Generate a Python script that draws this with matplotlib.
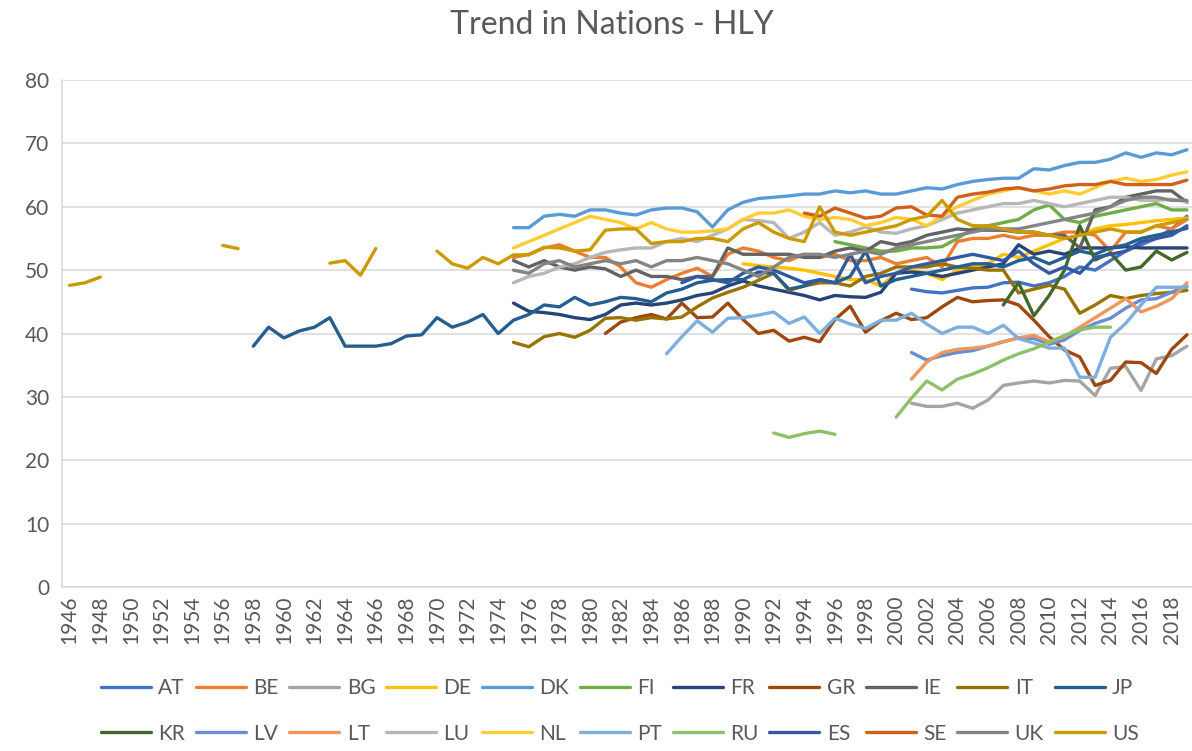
import numpy as np
import matplotlib
matplotlib.use("Agg")
import matplotlib.pyplot as plt

nan = np.nan

# 数据：每个国家 = (起始年份, 数值列表)
AT_start, AT = 2001, [47.0, 46.6, 46.4, 46.8, 47.2, 47.3, 48.0, 48.1, 47.5, 48.0, 49.0, 50.5, 50.0, 51.5, 53.0, 54.0, 55.0, 56.5, 58.5]
BE_start, BE = 1975, [52.0, 52.5, 53.5, 54.0, 53.0, 52.0, 52.0, 50.5, 48.0, 47.3,
                      48.5, 49.5, 50.3, 49.0, 52.5, 53.5, 53.0, 52.0, 51.5, 52.5,
                      52.0, 52.5, 51.5, 51.5, 52.0, 51.0, 51.5, 52.0, 50.5, 54.5,
                      55.0, 55.0, 55.5, 55.0, 55.5, 55.5, 56.0, 56.0, 55.5, 53.0,
                      56.0, 56.0, 57.0, 56.5, 58.0]
BG_start, BG = 2001, [29.0, 28.5, 28.5, 29.0, 28.2, 29.5, 31.8, 32.2, 32.5, 32.2, 32.6, 32.5, 30.2, 34.5, 34.8, 31.0, 36.0, 36.5, 38.0]
DE_start, DE = 1990, [51.0, 50.7, 50.5, 50.3, 50.0, 49.5, 49.0, 48.5, 48.5, 47.5,
                      49.5, 50.0, 49.5, 48.5, 50.0, 50.5, 51.0, 52.5, 52.0, 53.0,
                      54.0, 55.0, 55.5, 56.5, 57.0, 57.2, 57.5, 57.8, 58.0, 58.2]
DK_start, DK = 1975, [56.7, 56.7, 58.5, 58.8, 58.5, 59.5, 59.5, 59.0, 58.7, 59.5,
                      59.8, 59.8, 59.2, 56.8, 59.5, 60.7, 61.3, 61.5, 61.7, 62.0,
                      62.0, 62.5, 62.2, 62.5, 62.0, 62.0, 62.5, 63.0, 62.8, 63.5,
                      64.0, 64.3, 64.5, 64.5, 66.0, 65.8, 66.5, 67.0, 67.0, 67.5,
                      68.5, 67.8, 68.5, 68.2, 69.0]
FI_start, FI = 1996, [54.5, 54.0, 53.5, 53.0, 53.0, 53.5, 53.5, 53.7, 55.0, 56.5,
                      57.0, 57.5, 58.0, 59.5, 60.3, 58.0, 57.5, 58.5, 59.0, 59.5,
                      60.0, 60.5, 59.5, 59.5]
FR_start, FR = 1975, [44.8, 43.5, 43.3, 43.0, 42.5, 42.2, 43.0, 44.5, 44.8, 44.5,
                      44.8, 45.3, 46.0, 46.4, 47.5, 48.3, 47.5, 47.0, 46.5, 46.0,
                      45.3, 46.0, 45.8, 45.7, 46.5, 49.5, 49.7, 49.5, 49.0, 49.5,
                      50.0, 50.5, 51.0, 54.0, 52.5, 53.0, 52.5, 53.5, 53.5, 53.5,
                      53.7, 53.5, 53.5, 53.5, 53.5]
GR_start, GR = 1981, [40.0, 41.8, 42.5, 43.0, 42.3, 44.8, 42.5, 42.6, 44.8, 42.2,
                      40.0, 40.5, 38.8, 39.4, 38.7, 42.2, 44.3, 40.2, 42.0, 43.2,
                      42.2, 42.5, 44.2, 45.7, 45.0, 45.2, 45.3, 44.5, 42.1, 39.5,
                      37.4, 36.3, 31.8, 32.6, 35.5, 35.4, 33.7, 37.5, 39.8]
IE_start, IE = 1975, [51.5, 50.5, 51.5, 50.5, 50.0, 50.5, 50.2, 49.0, 50.0, 49.0,
                      49.0, 48.5, 49.0, 49.0, 53.5, 52.5, 52.5, 52.5, 52.5, 52.0,
                      52.0, 53.0, 53.5, 53.0, 54.5, 54.0, 54.5, 55.5, 56.0, 56.5,
                      56.3, 56.3, 56.3, 56.0, 56.0, 55.5, 55.5, 53.5, 59.5, 60.0,
                      61.5, 62.0, 62.5, 62.5, 60.7]
IT_start, IT = 1975, [38.6, 37.9, 39.5, 40.0, 39.4, 40.5, 42.4, 42.5, 42.1, 42.5,
                      42.3, 42.6, 44.2, 45.6, 46.5, 47.3, 48.4, 49.5, 46.8, 47.5,
                      48.0, 48.0, 47.5, 49.0, 49.5, 50.5, 50.5, 50.5, 51.0, 50.5,
                      50.3, 50.0, 50.0, 46.4, 47.0, 47.6, 47.0, 43.2, 44.5, 46.0,
                      45.5, 46.0, 46.3, 46.5, 46.8]
JP_start, JP = 1958, [38.0, 41.0, 39.3, 40.4, 41.0, 42.5, 38.0, 38.0, 38.0, 38.4,
                      39.6, 39.8, 42.5, 41.0, 41.8, 43.0, 40.0, 42.1, 43.0, 44.5,
                      44.2, 45.7, 44.5, 45.0, 45.7, 45.5, 45.0, 46.4, 47.0, 48.0,
                      48.4, 48.5, 48.5, 49.7, 49.5, 47.0, 47.5, 48.5, 48.0, 49.0,
                      53.0, 47.5, 48.5, 49.0, 49.5, 50.0, 50.5, 51.0, 51.0, 50.5,
                      51.5, 52.0, 51.0, 52.0, 53.0, 52.5, 53.5, 54.0, 55.0, 55.5,
                      56.0, 56.6]
KR_start, KR = 2007, [44.5, 48.0, 42.8, 46.0, 50.0, 57.0, 51.6, 52.7, 50.0, 50.5, 53.0, 51.6, 52.8]
LV_start, LV = 2001, [37.0, 35.8, 36.5, 37.0, 37.3, 38.0, 38.7, 39.3, 39.2, 38.3, 39.0, 40.5, 41.6, 42.4, 44.0, 45.3, 45.5, 46.5, 47.5]
LT_start, LT = 2001, [32.8, 35.5, 37.0, 37.5, 37.7, 38.0, 38.7, 39.3, 39.7, 38.7, 39.5, 41.0, 42.5, 44.0, 45.5, 43.4, 44.3, 45.5, 48.0]
LU_start, LU = 1975, [48.0, 49.0, 49.5, 50.5, 51.0, 52.0, 52.8, 53.2, 53.5, 53.5,
                      54.5, 55.0, 54.5, 55.5, 56.5, 58.0, 57.8, 57.5, 55.0, 56.0,
                      57.5, 55.5, 56.0, 56.8, 56.0, 55.8, 56.5, 57.0, 58.0, 59.0,
                      59.5, 60.0, 60.5, 60.5, 61.0, 60.5, 60.0, 60.5, 61.0, 61.5,
                      61.5, 61.0, 61.0, 61.2, 60.8]
NL_start, NL = 1975, [53.5, 54.5, 55.5, 56.5, 57.5, 58.5, 58.0, 57.5, 56.5, 57.5,
                      56.5, 56.0, 56.0, 56.2, 56.5, 58.0, 59.0, 59.0, 59.5, 58.5,
                      58.0, 58.3, 58.0, 57.0, 57.5, 58.3, 58.0, 57.0, 58.5, 60.0,
                      61.0, 62.0, 62.5, 63.0, 62.5, 62.0, 62.5, 62.0, 63.0, 64.0,
                      64.5, 64.0, 64.3, 65.0, 65.5]
PT_start, PT = 1985, [36.8, 39.5, 42.0, 40.2, 42.4, 42.5, 42.9, 43.4, 41.6, 42.6,
                      40.0, 42.4, 41.5, 40.8, 42.1, 42.1, 43.2, 41.5, 40.0, 41.0,
                      41.0, 40.0, 41.3, 39.2, 38.5, 37.7, 37.7, 33.1, 33.1, 39.4,
                      41.6, 44.5, 47.3, 47.3, 47.3]
RU_start, RU = 1992, [24.3, 23.6, 24.2, 24.6, 24.1, nan, nan, nan,
                      26.8, 29.8, 32.5, 31.1, 32.8, 33.6, 34.6, 35.8, 36.8, 37.6,
                      38.6, 39.7, 40.6, 41.0, 41.0]
ES_start, ES = 1986, [48.0, 49.0, 48.5, 48.0, 49.5, 50.5, 50.0, 49.0, 48.0, 48.5,
                      48.0, 52.5, 48.0, 49.0, 49.5, 50.5, 51.0, 51.5, 52.0, 52.5,
                      52.0, 51.5, 53.0, 51.0, 49.5, 50.5, 49.5, 52.0, 52.5, 53.0,
                      54.5, 55.0, 55.5, 57.0]
SE_start, SE = 1994, [59.0, 58.5, 59.8, 59.0, 58.2, 58.5, 59.8, 60.0, 58.7, 58.5,
                      61.5, 62.0, 62.3, 62.8, 63.0, 62.5, 62.8, 63.3, 63.5, 63.5,
                      64.0, 63.5, 63.5, 63.5, 63.5, 64.2]
UK_start, UK = 1975, [50.0, 49.5, 51.0, 51.5, 50.5, 51.0, 51.5, 51.0, 51.5, 50.5,
                      51.5, 51.5, 52.0, 51.5, 51.0, 50.0, 49.0, 50.5, 52.0, 52.5,
                      52.5, 52.0, 52.5, 53.0, 52.5, 53.5, 54.0, 54.5, 55.0, 55.5,
                      56.0, 56.5, 56.5, 56.5, 57.0, 57.5, 58.0, 58.5, 59.0, 60.0,
                      61.0, 61.5, 61.5, 61.0, 61.0]
US_start, US = 1946, [47.6, 48.0, 48.9, nan, nan, nan, nan, nan, nan, nan,
                      53.9, 53.4, nan, nan, nan, nan, nan, 51.1, 51.5, 49.2,
                      53.4, nan, nan, nan, 53.0, 51.0, 50.3, 52.0, 51.0, 52.4,
                      52.4, 53.6, 53.5, 53.0, 53.2, 56.3, 56.5, 56.5, 54.2, 54.5,
                      54.5, 55.0, 55.0, 54.5, 56.5, 57.5, 56.0, 55.0, 54.5, 60.0,
                      56.0, 55.5, 56.0, 56.5, 57.0, 58.0, 58.5, 61.0, 58.0, 57.0,
                      57.0, 56.5, 56.0, 56.0, 55.5, 55.0, 55.5, 56.0, 56.5, 56.0,
                      56.0, 57.0, 57.5, 58.0]

countries = ["AT", "BE", "BG", "DE", "DK", "FI", "FR", "GR", "IE", "IT", "JP",
             "KR", "LV", "LT", "LU", "NL", "PT", "RU", "ES", "SE", "UK", "US"]
colors = ["#4472C4", "#ED7D31", "#A5A5A5", "#FFC000", "#5B9BD5", "#70AD47",
          "#264478", "#9E480E", "#636363", "#997300", "#255E91", "#43682B",
          "#698ED0", "#F1975A", "#B7B7B7", "#FFCD33", "#7CAFDD", "#8CC168",
          "#335AA1", "#D0611C", "#848484", "#CC9A00"]

series = {
    "AT": (AT_start, AT), "BE": (BE_start, BE), "BG": (BG_start, BG),
    "DE": (DE_start, DE), "DK": (DK_start, DK), "FI": (FI_start, FI),
    "FR": (FR_start, FR), "GR": (GR_start, GR), "IE": (IE_start, IE),
    "IT": (IT_start, IT), "JP": (JP_start, JP), "KR": (KR_start, KR),
    "LV": (LV_start, LV), "LT": (LT_start, LT), "LU": (LU_start, LU),
    "NL": (NL_start, NL), "PT": (PT_start, PT), "RU": (RU_start, RU),
    "ES": (ES_start, ES), "SE": (SE_start, SE), "UK": (UK_start, UK),
    "US": (US_start, US),
}

plt.rcParams['font.family'] = ['Lato', 'DejaVu Sans']
txt = "#595959"

fig = plt.figure(figsize=(11.92, 7.51), dpi=100)
ax = fig.add_axes([62 / 1192, 164 / 751, 1130 / 1192, 507 / 751])

for name, col in zip(countries, colors):
    start, vals = series[name]
    yrs = np.arange(start, start + len(vals))
    ax.plot(yrs, vals, color=col, lw=2.4, label=name, solid_capstyle='round')

ax.set_xlim(1945.5, 2019.33)
ax.set_ylim(0, 80)
ax.set_yticks(range(0, 81, 10))
ax.set_xticks(range(1946, 2019, 2))
ax.set_xticklabels([str(y) for y in range(1946, 2019, 2)], rotation=90)
ax.tick_params(axis='both', length=0, labelsize=15, labelcolor=txt)
ax.tick_params(axis='x', pad=6)
ax.tick_params(axis='y', pad=9)
ax.grid(axis='y', color="#D9D9D9", lw=1.1)
ax.set_axisbelow(True)
for s in ["top", "right"]:
    ax.spines[s].set_visible(False)
ax.spines["left"].set_color("#D9D9D9")
ax.spines["bottom"].set_color("#D9D9D9")
ax.spines["left"].set_linewidth(1.1)
ax.spines["bottom"].set_linewidth(1.1)

fig.text(612 / 1192, 1 - 25 / 751, "Trend in Nations - HLY", ha='center', va='center',
         fontsize=23, color=txt)

# 图例按行排列（matplotlib按列填充，所以交错排序）
h, l = ax.get_legend_handles_labels()
order = [i + r * 11 for i in range(11) for r in range(2)]
fig.legend([h[i] for i in order], [l[i] for i in order], loc='center',
           bbox_to_anchor=(0.52, 1 - 711 / 751), ncol=11,
           frameon=False, fontsize=15, labelcolor=txt, handlelength=2.4,
           handletextpad=0.35, columnspacing=0.52, labelspacing=1.2)

fig.savefig("out.png", dpi=100)
